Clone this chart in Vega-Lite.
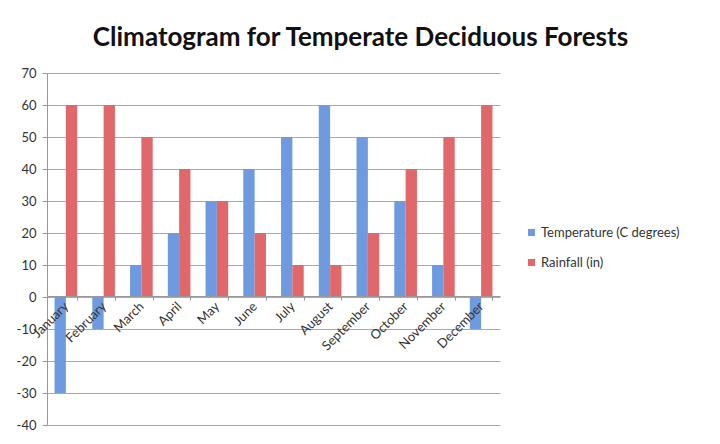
{
  "$schema": "https://vega.github.io/schema/vega-lite/v6.json",
  "width": 453,
  "height": 352,
  "autosize": "none",
  "padding": {"left": 47, "top": 73, "right": 220, "bottom": 19},
  "background": "white",
  "title": {
    "text": "Climatogram for Temperate Deciduous Forests",
    "font": "Lato",
    "fontSize": 26,
    "fontWeight": "bold",
    "color": "#111111",
    "anchor": "middle",
    "dx": 87,
    "offset": 16
  },
  "data": {
    "values": [
      {"month": "January", "series": "Temperature (C degrees)", "value": -30},
      {"month": "January", "series": "Rainfall (in)", "value": 60},
      {"month": "February", "series": "Temperature (C degrees)", "value": -10},
      {"month": "February", "series": "Rainfall (in)", "value": 60},
      {"month": "March", "series": "Temperature (C degrees)", "value": 10},
      {"month": "March", "series": "Rainfall (in)", "value": 50},
      {"month": "April", "series": "Temperature (C degrees)", "value": 20},
      {"month": "April", "series": "Rainfall (in)", "value": 40},
      {"month": "May", "series": "Temperature (C degrees)", "value": 30},
      {"month": "May", "series": "Rainfall (in)", "value": 30},
      {"month": "June", "series": "Temperature (C degrees)", "value": 40},
      {"month": "June", "series": "Rainfall (in)", "value": 20},
      {"month": "July", "series": "Temperature (C degrees)", "value": 50},
      {"month": "July", "series": "Rainfall (in)", "value": 10},
      {"month": "August", "series": "Temperature (C degrees)", "value": 60},
      {"month": "August", "series": "Rainfall (in)", "value": 10},
      {"month": "September", "series": "Temperature (C degrees)", "value": 50},
      {"month": "September", "series": "Rainfall (in)", "value": 20},
      {"month": "October", "series": "Temperature (C degrees)", "value": 30},
      {"month": "October", "series": "Rainfall (in)", "value": 40},
      {"month": "November", "series": "Temperature (C degrees)", "value": 10},
      {"month": "November", "series": "Rainfall (in)", "value": 50},
      {"month": "December", "series": "Temperature (C degrees)", "value": -10},
      {"month": "December", "series": "Rainfall (in)", "value": 60}
    ]
  },
  "mark": {"type": "bar"},
  "encoding": {
    "x": {
      "field": "month",
      "type": "nominal",
      "sort": null,
      "scale": {"paddingInner": 0.4, "paddingOuter": 0.2},
      "axis": {
        "title": null,
        "zindex": 1,
        "offset": -129,
        "labelAngle": -45,
        "labelAlign": "right",
        "labelBaseline": "middle",
        "labelFont": "Lato",
        "labelFontSize": 13,
        "labelColor": "#333333",
        "labelPadding": 4,
        "domainColor": "#999999",
        "tickColor": "#999999",
        "tickBand": "extent",
        "ticks": true,
        "tickSize": 4,
        "grid": false
      }
    },
    "xOffset": {
      "field": "series",
      "type": "nominal",
      "sort": ["Temperature (C degrees)", "Rainfall (in)"]
    },
    "y": {
      "field": "value",
      "type": "quantitative",
      "scale": {"domain": [-40, 70], "nice": false},
      "axis": {
        "title": null,
        "values": [-40, -30, -20, -10, 0, 10, 20, 30, 40, 50, 60, 70],
        "labelExpr": "datum.value + ''",
        "labelFont": "Lato",
        "labelFontSize": 13,
        "labelColor": "#333333",
        "labelPadding": 6,
        "domainColor": "#999999",
        "tickColor": "#999999",
        "tickSize": 5,
        "gridColor": "#aaaaaa",
        "gridWidth": 1.2
      }
    },
    "color": {
      "field": "series",
      "type": "nominal",
      "sort": ["Temperature (C degrees)", "Rainfall (in)"],
      "scale": {
        "domain": ["Temperature (C degrees)", "Rainfall (in)"],
        "range": ["#6e9be0", "#e0676a"]
      },
      "legend": {
        "title": null,
        "orient": "none",
        "legendX": 478,
        "legendY": 153,
        "symbolType": "square",
        "symbolSize": 50,
        "symbolStrokeWidth": 0,
        "labelFont": "Lato",
        "labelFontSize": 13,
        "labelColor": "#333333",
        "labelOffset": 3,
        "rowPadding": 16
      }
    }
  },
  "config": {
    "view": {"stroke": null}
  }
}
